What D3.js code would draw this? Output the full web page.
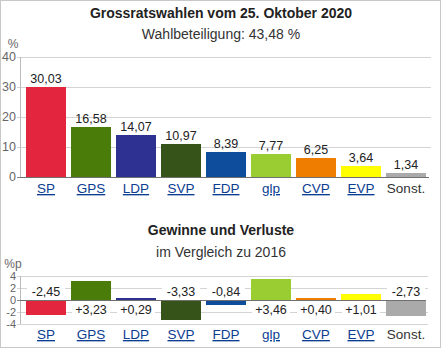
<!DOCTYPE html>
<html>
<head>
<meta charset="utf-8">
<script src="https://cdn.jsdelivr.net/npm/d3@7"></script>
<style>
  body { margin: 0; background: #fff; }
  svg text { font-family: "Liberation Sans", Arial, sans-serif; }
</style>
</head>
<body>
<div id="chart"></div>
<script>
// Party names and results
var parties = ["SP", "GPS", "LDP", "SVP", "FDP", "glp", "CVP", "EVP", "Sonst."];
var shares = [30.03, 16.58, 14.07, 10.97, 8.39, 7.77, 6.25, 3.64, 1.34];
var changes = [-2.45, 3.23, 0.29, -3.33, -0.84, 3.46, 0.40, 1.01, -2.73];
var partyColors = ["#e3263e", "#4a7c0a", "#2e3192", "#36531a", "#0d4d9c", "#9acd32", "#ef7d00", "#ffff00", "#aaaaaa"];
var linked = [true, true, true, true, true, true, true, true, false];
var shareTicks = [0, 10, 20, 30, 40];
var changeTicks = [-4, -2, 0, 2, 4];

var width = 442, height = 350;
var fmt = function (v) { return v.toFixed(2).replace(".", ","); };
var fmtSigned = function (v) { return (v > 0 ? "+" : "") + fmt(v); };

var svg = d3.select("#chart").append("svg")
    .attr("width", width)
    .attr("height", height);

// outer frame
svg.append("rect")
    .attr("x", 0.5).attr("y", 0.5)
    .attr("width", width - 2).attr("height", height - 3)
    .attr("fill", "#fff")
    .attr("stroke", "#c8c8c8");

// shared x scale
var x = d3.scaleBand()
    .domain(parties)
    .range([23.5, 428.5])
    .paddingInner(1 / 9)
    .paddingOuter(1 / 18);

// draws one bar panel
function panel(opts) {
    var y = d3.scaleLinear().domain(opts.domain).range(opts.range);
    var g = svg.append("g");

    // gridlines
    g.selectAll(".grid").data(opts.ticks.filter(function (t) { return t !== 0; }))
        .enter().append("line")
        .attr("x1", 17).attr("x2", opts.gridEnd)
        .attr("y1", function (d) { return Math.round(y(d)) + 0.5; })
        .attr("y2", function (d) { return Math.round(y(d)) + 0.5; })
        .attr("stroke", "#d4d4d4");

    // short tick by the zero line
    g.append("line")
        .attr("x1", 17).attr("x2", 20)
        .attr("y1", Math.round(y(0)) + 0.5).attr("y2", Math.round(y(0)) + 0.5)
        .attr("stroke", "#888");

    // y axis labels
    g.selectAll(".tick").data(opts.ticks)
        .enter().append("text")
        .attr("x", 16)
        .attr("y", function (d) { return y(d) + opts.tickSize * 0.35; })
        .attr("text-anchor", "end")
        .attr("font-size", opts.tickSize)
        .attr("fill", "#666")
        .text(function (d) { return d; });

    // unit label
    g.append("text")
        .attr("x", opts.unitX).attr("y", opts.unitY)
        .attr("text-anchor", "middle")
        .attr("font-size", 12)
        .attr("fill", "#666")
        .text(opts.unit);

    // y axis line
    g.append("line")
        .attr("x1", 20.5).attr("x2", 20.5)
        .attr("y1", y(opts.domain[1])).attr("y2", y(opts.domain[0]))
        .attr("stroke", "#bbb");

    // bars
    g.selectAll(".bar").data(opts.values)
        .enter().append("rect")
        .attr("x", function (d, i) { return x(parties[i]); })
        .attr("width", x.bandwidth())
        .attr("y", function (d) { return Math.round(y(Math.max(0, d))); })
        .attr("height", function (d) { return Math.max(1, Math.round(Math.abs(y(d) - y(0)))); })
        .attr("fill", function (d, i) { return partyColors[i]; });

    // zero line
    g.append("line")
        .attr("x1", 20).attr("x2", opts.gridEnd - 2)
        .attr("y1", Math.round(y(0)) + 0.5).attr("y2", Math.round(y(0)) + 0.5)
        .attr("stroke", "#707070");

    // value labels with white boxes
    var lab = g.selectAll(".lab").data(opts.values).enter().append("g")
        .attr("transform", function (d, i) {
            return "translate(" + (x(parties[i]) + x.bandwidth() / 2) + "," + opts.labelY(d, y) + ")";
        });
    lab.append("rect")
        .attr("x", -19).attr("width", 38)
        .attr("y", -13).attr("height", 16)
        .attr("fill", "#fff")
        .attr("opacity", opts.boxOpacity);
    lab.append("text")
        .attr("text-anchor", "middle")
        .attr("font-size", 12.5)
        .attr("fill", "#222")
        .text(function (d) { return opts.format(d); });

    // category labels
    g.selectAll(".cat").data(parties)
        .enter().append("text")
        .attr("x", function (d) { return x(d) + x.bandwidth() / 2; })
        .attr("y", opts.catY)
        .attr("text-anchor", "middle")
        .attr("font-size", 13.5)
        .attr("fill", function (d, i) { return linked[i] ? "#0b3d91" : "#333"; })
        .attr("text-decoration", function (d, i) { return linked[i] ? "underline" : "none"; })
        .text(function (d) { return d; });
}

// titles
svg.append("text").attr("x", 221).attr("y", 18)
    .attr("text-anchor", "middle").attr("font-size", 14).attr("font-weight", "bold")
    .attr("fill", "#222").text("Grossratswahlen vom 25. Oktober 2020");
svg.append("text").attr("x", 221).attr("y", 39)
    .attr("text-anchor", "middle").attr("font-size", 14)
    .attr("fill", "#333").text("Wahlbeteiligung: 43,48 %");
svg.append("text").attr("x", 221).attr("y", 235)
    .attr("text-anchor", "middle").attr("font-size", 14).attr("font-weight", "bold")
    .attr("fill", "#222").text("Gewinne und Verluste");
svg.append("text").attr("x", 221).attr("y", 257)
    .attr("text-anchor", "middle").attr("font-size", 14)
    .attr("fill", "#333").text("im Vergleich zu 2016");

panel({
    values: shares,
    domain: [0, 40], range: [177, 57],
    ticks: shareTicks,
    tickSize: 12.5,
    unit: "%", unitX: 13, unitY: 48,
    gridEnd: 431,
    boxOpacity: 0,
    format: fmt,
    labelY: function (d, y) { return y(d) - 4; },
    catY: 193
});

panel({
    values: changes,
    domain: [-4, 4], range: [324, 276],
    ticks: changeTicks,
    tickSize: 11,
    unit: "%p", unitX: 13, unitY: 268,
    gridEnd: 428,
    boxOpacity: 1,
    format: fmtSigned,
    labelY: function (d, y) { return d < 0 ? y(0) - 4 : y(0) + 14; },
    catY: 339
});
</script>
</body>
</html>
